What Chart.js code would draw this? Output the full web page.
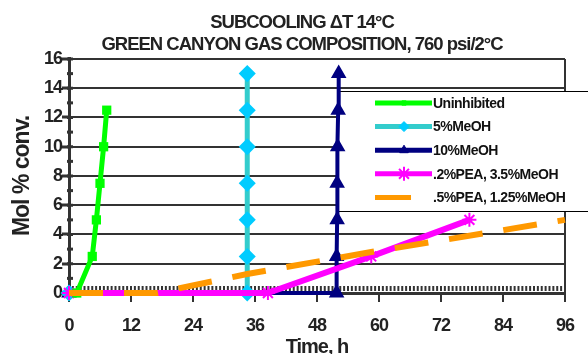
<!DOCTYPE html>
<html>
<head>
<meta charset="utf-8">
<title>Subcooling 14C</title>
<script src="https://cdn.jsdelivr.net/npm/chart.js@4.4.1/dist/chart.umd.min.js"></script>
<style>
  html, body { margin: 0; padding: 0; background: #fff; }
</style>
</head>
<body>
<canvas id="myChart" width="588" height="354"></canvas>
<script>
// Values (time in h, conversion in mol %)
var titleLines = ['SUBCOOLING \u0394T 14\u00B0C', 'GREEN CANYON GAS COMPOSITION, 760 psi/2\u00B0C'];
var seriesNames = ['Uninhibited', '5%MeOH', '10%MeOH', '.2%PEA, 3.5%MeOH', '.5%PEA, 1.25%MeOH'];
var timeTicks = [0, 12, 24, 36, 48, 60, 72, 84, 96];
var convTicks = [0, 2, 4, 6, 8, 10, 12, 14, 16];

var uninhibitedTime = [1.5, 4.5, 5.3, 6.0, 6.7, 7.3];
var uninhibitedConv = [0, 2.5, 5, 7.5, 10, 12.5];

var meoh5Time = [0, 34.5, 34.5, 34.5, 34.5, 34.5, 34.5, 34.5];
var meoh5Conv = [0, 0, 2.5, 5, 7.5, 10, 12.5, 15];

var meoh10Time = [0, 51.8, 51.8, 51.9, 51.9, 52.0, 52.1, 52.2];
var meoh10Conv = [0, 0, 2.5, 5, 7.5, 10, 12.5, 15];

var pea2Time = [0, 38.5, 58.5, 77.5];
var pea2Conv = [0, 0, 2.5, 5];

var pea5Time = [0, 17, 34.5, 58.5, 96];
var pea5Conv = [0, 0, 1.3, 2.8, 5];

var ink = '#333';

function points(xs, ys) {
    return xs.map(function (x, i) { return { x: x, y: ys[i] }; });
}

var datasets = [{
    label: seriesNames[0],
    data: points(uninhibitedTime, uninhibitedConv),
    borderColor: '#00ff00', backgroundColor: '#00ff00',
    borderWidth: 5, pointStyle: 'rect', pointRadius: 3, order: 2
}, {
    label: seriesNames[1],
    data: points(meoh5Time, meoh5Conv),
    borderColor: '#33cccc', backgroundColor: '#00ccff', pointBorderColor: '#00ccff',
    borderWidth: 5, pointStyle: 'rectRot', pointRadius: 5, order: 4
}, {
    label: seriesNames[2],
    data: points(meoh10Time, meoh10Conv),
    borderColor: '#000080', backgroundColor: '#000080',
    borderWidth: 4, pointStyle: 'triangle', pointRadius: 5, order: 5
}, {
    label: seriesNames[3],
    data: points(pea2Time, pea2Conv),
    borderColor: '#ff00ff', backgroundColor: '#ff00ff',
    borderWidth: 6, pointStyle: 'star', pointRadius: 7, pointBorderWidth: 2, order: 3
}, {
    label: seriesNames[4],
    data: points(pea5Time, pea5Conv),
    borderColor: '#ff9900', backgroundColor: '#ff9900',
    borderWidth: 6, borderDash: [34, 21], pointRadius: 0, order: 1
}];

// axis extras + the boxed legend, drawn under the lines like in the original
var extras = {
    id: 'extras',
    afterLayout: function (chart) {
        // title sits a bit right of the canvas centre in the original
        var tb = chart.titleBlock;
        if (tb) { tb.left = 16; tb.right = 588; tb.width = 572; }
    },
    beforeDraw: function (chart) {
        // the original text is tightly set
        chart.ctx.letterSpacing = '-1px';
    },
    beforeDatasetsDraw: function (chart) {
        var ctx = chart.ctx, xs = chart.scales.x, ys = chart.scales.y;
        var left = chart.chartArea.left, bottom = chart.chartArea.bottom;
        ctx.save();
        ctx.strokeStyle = ink;
        ctx.lineWidth = 3;
        // y ticks poke into the plot, minor ones at odd values
        for (var v = 1; v <= 16; v++) {
            var py = ys.getPixelForValue(v);
            ctx.beginPath();
            ctx.moveTo(left - 2, py);
            ctx.lineTo(left + 4, py);
            ctx.stroke();
        }
        // dense minor ticks on the time axis
        ctx.lineWidth = 2;
        for (var t = 0.75; t < 96; t += 0.75) {
            var px = xs.getPixelForValue(t);
            ctx.beginPath();
            ctx.moveTo(px, bottom - 7);
            ctx.lineTo(px, bottom - 2);
            ctx.stroke();
        }

        // legend box
        var bx = 337, by = 91, bw = 260, bh = 120;
        ctx.fillStyle = '#fff';
        ctx.fillRect(bx, by, bw, bh);
        ctx.strokeStyle = '#000';
        ctx.lineWidth = 1;
        ctx.strokeRect(bx + 0.5, by + 0.5, bw, bh);
        ctx.font = 'bold 14px "Liberation Sans", Arial, sans-serif';
        ctx.letterSpacing = '-0.5px';
        ctx.textBaseline = 'middle';
        ctx.textAlign = 'left';
        chart.data.datasets.forEach(function (ds, i) {
            var ry = 103 + i * 23.6;
            ctx.save();
            ctx.strokeStyle = ds.borderColor;
            ctx.lineWidth = 5;
            if (ds.borderDash) ctx.setLineDash([36, 24]);
            ctx.beginPath();
            ctx.moveTo(375, ry);
            ctx.lineTo(432, ry);
            ctx.stroke();
            ctx.setLineDash([]);
            if (ds.pointRadius > 0) {
                ctx.fillStyle = ds.backgroundColor;
                ctx.strokeStyle = ds.pointBorderColor || ds.borderColor;
                ctx.lineWidth = ds.pointBorderWidth || 1;
                Chart.helpers.drawPoint(ctx, {
                    pointStyle: ds.pointStyle, radius: ds.pointRadius,
                    rotation: 0, borderWidth: ds.pointBorderWidth || 1
                }, 404, ry);
            }
            ctx.restore();
            ctx.fillStyle = '#111';
            ctx.fillText(ds.label, 433, ry + 1);
        });
        ctx.restore();
    }
};

Chart.defaults.font.family = '"Liberation Sans", Arial, sans-serif';
Chart.defaults.color = '#222';

var ctx = document.getElementById('myChart').getContext('2d');

var myChart = new Chart(ctx, {
    type: 'line',
    data: { datasets: datasets },
    plugins: [extras],
    options: {
        responsive: false,
        animation: false,
        layout: { padding: { left: 0, right: 16, top: 0, bottom: 0 } },
        elements: { line: { tension: 0 } },
        datasets: { line: { clip: false } },
        plugins: {
            legend: { display: false },
            tooltip: { enabled: false },
            title: {
                display: true,
                text: titleLines,
                color: '#222',
                font: { size: 18.5, weight: 'bold', lineHeight: 1.17 },
                padding: { top: 12.5, bottom: 3.2 }
            }
        },
        scales: {
            x: {
                type: 'linear',
                min: 0, max: 96,
                afterBuildTicks: function (s) { s.ticks = timeTicks.map(function (v) { return { value: v }; }); },
                afterFit: function (s) { s.height = 61; },
                border: { display: true, color: ink, width: 3 },
                grid: {
                    color: function (c) { return c.tick && c.tick.value === 96 ? ink : 'rgba(0,0,0,0)'; },
                    lineWidth: 2,
                    tickColor: ink, tickWidth: 2, tickLength: 9
                },
                ticks: { font: { size: 18, weight: 'bold' }, padding: 13, maxRotation: 0, autoSkip: false },
                title: {
                    display: true, text: 'Time, h',
                    font: { size: 20, weight: 'bold' },
                    padding: { top: 0, bottom: -5 }
                }
            },
            y: {
                min: 0, max: 16,
                afterBuildTicks: function (s) { s.ticks = convTicks.map(function (v) { return { value: v }; }); },
                afterFit: function (s) { s.width = 69; },
                border: { display: true, color: ink, width: 3 },
                grid: {
                    color: function (c) { return c.tick && c.tick.value === 0 ? 'rgba(0,0,0,0)' : ink; },
                    lineWidth: 2,
                    tickColor: ink, tickWidth: 3, tickLength: 7
                },
                ticks: { font: { size: 18, weight: 'bold' }, padding: 0 },
                title: {
                    display: true, text: 'Mol % conv.',
                    font: { size: 23, weight: 'bold' },
                    padding: { top: 9, bottom: 0 }
                }
            }
        }
    }
});
</script>
</body>
</html>
